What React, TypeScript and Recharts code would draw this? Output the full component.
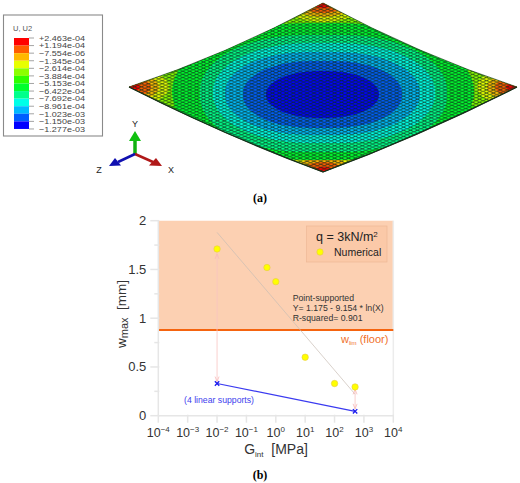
import {
  ScatterChart,
  Scatter,
  XAxis,
  YAxis,
  ReferenceArea,
  ReferenceLine,
} from 'recharts';

const FONT = '"Liberation Sans", Arial, sans-serif';

// panel (b) values
const xTicks = [1e-4, 1e-3, 1e-2, 1e-1, 1, 10, 100, 1000, 10000];
const xExponents = ['-4', '-3', '-2', '-1', '0', '1', '2', '3', '4'];
const yTicks = [0, 0.25, 0.5, 0.75, 1, 1.25, 1.5, 1.75, 2];
const yLabels: Record<number, string> = { 0: '0', 0.5: '0.5', 1: '1', 1.5: '1.5', 2: '2' };

const numericalX = [0.01, 0.5, 1, 10, 100, 500];
const numericalY = [1.71, 1.52, 1.375, 0.6, 0.33, 0.295];
const linearX = [0.01, 500];
const linearY = [0.33, 0.045];
const trendX = [0.01, 500];
const trendY = [1.88, 0.22];
const arrowLeftY = [1.66, 0.35];
const arrowRightY = [0.27, 0.07];
const wLim = 0.88;

const numerical = numericalX.map((x, i) => ({ x, y: numericalY[i] }));
const linear = linearX.map((x, i) => ({ x, y: linearY[i] }));
const trend = trendX.map((x, i) => ({ x, y: trendY[i] }));
const arrowLeft = arrowLeftY.map((y) => ({ x: 0.01, y }));
const arrowRight = arrowRightY.map((y) => ({ x: 500, y }));

// panel (a) contour legend
const contourLabels = [
  '+2.463e-04', '+1.194e-04', '\u22127.554e-06', '\u22121.345e-04', '\u22122.614e-04',
  '\u22123.884e-04', '\u22125.153e-04', '\u22126.422e-04', '\u22127.692e-04', '\u22128.961e-04',
  '\u22121.023e-03', '\u22121.150e-03', '\u22121.277e-03',
];
const contourColors = [
  '#ff0000', '#ff5d00', '#ffb900', '#e8ff00', '#8bff00', '#2eff00',
  '#00ff2e', '#00ff8b', '#00ffe8', '#00b9ff', '#005dff', '#0000ff',
];

const plate = 'M323,3 Q420,55 517,87 Q420,136 323,172 Q226,136 129,87 Q226,55 323,3 Z';
const plateBottom = 'M517,87 Q420,136 323,172 Q226,136 129,87';
const plateCorners = [[323, 3], [517, 87], [323, 172], [129, 87]];
// distance from the plate's corner to each band edge, outermost first
const cornerBands = [
  { rx: 62, ry: 27, color: '#8bff00' },
  { rx: 40, ry: 19, color: '#e8ff00' },
  { rx: 30, ry: 14, color: '#ffb900' },
  { rx: 22, ry: 10, color: '#ff5d00' },
  { rx: 11, ry: 5, color: '#ff0000' },
];
const greenBand = { x0: 172, x1: 474, y0: 23, y1: 160, rx: 135, ry: 68, color: '#00ff2e' };
const centreBands = [
  { x0: 200, x1: 447, y0: 35, y1: 152, rx: 105, ry: 55, color: '#00ff8b' },
  { x0: 213, x1: 435, y0: 43, y1: 143, rx: 95, ry: 48, color: '#00ffe8' },
  { x0: 225, x1: 420, y0: 52, y1: 135, rx: 82, ry: 40, color: '#00b9ff' },
  { x0: 243, x1: 402, y0: 61, y1: 128, rx: 68, ry: 32, color: '#005dff' },
  { x0: 266, x1: 379, y0: 71, y1: 118, rx: 52, ry: 23, color: '#0000ff' },
];

function XTick({ x, y, payload }: any) {
  const exp = xExponents[xTicks.indexOf(payload.value)];
  return (
    <g>
      <line x1={x} x2={x} y1={y - 9} y2={y - 1} stroke="#e6e6e6" strokeWidth={1.5} />
      <text x={x} y={y + 13.3} textAnchor="middle" fontFamily={FONT} fontSize={12.5} fill="#333">
        10
        <tspan dy={-5} fontSize={8}>{exp === undefined ? '' : exp.replace('-', '\u2212')}</tspan>
      </text>
    </g>
  );
}

function YTick({ x, y, payload }: any) {
  const label = yLabels[payload.value];
  return (
    <g>
      <line x1={x + 8 - (label ? 8 : 4)} x2={x + 9} y1={y} y2={y} stroke="#e6e6e6" strokeWidth={1.5} />
      <text x={x - 4} y={y + 4.5} textAnchor="end" fontFamily={FONT} fontSize={13} fill="#333">
        {label}
      </text>
    </g>
  );
}

const noDot = () => <g />;
const yellowDot = ({ cx, cy }: any) => (
  <circle cx={cx} cy={cy} r={3.2} fill="#ffff00" stroke="#e6c84a" strokeWidth={0.6} />
);
const blueCross = ({ cx, cy }: any) => (
  <path
    d={`M${cx - 2.2},${cy - 2.2}L${cx + 2.2},${cy + 2.2}M${cx - 2.2},${cy + 2.2}L${cx + 2.2},${cy - 2.2}`}
    stroke="#1a1aee"
    strokeWidth={1.3}
  />
);
const arrowHead = (p: any) => {
  const dir = p.index === 0 ? 1 : -1;
  return (
    <path
      d={`M${p.cx - 2},${p.cy + dir * 5}L${p.cx},${p.cy}L${p.cx + 2},${p.cy + dir * 5}`}
      fill="none"
      stroke="#f7b9b9"
      strokeWidth={0.8}
    />
  );
};

function bandRect(b: typeof greenBand) {
  return (
    <rect
      key={b.color}
      x={b.x0}
      y={b.y0}
      width={b.x1 - b.x0}
      height={b.y1 - b.y0}
      rx={b.rx}
      ry={b.ry}
      fill={b.color}
    />
  );
}

function PlatePanel() {
  return (
    <svg width={520} height={205} style={{ position: 'absolute', left: 0, top: 0 }}>
      <defs>
        <clipPath id="plate">
          <path d={plate} />
        </clipPath>
        <pattern id="mesh" width={6.9} height={3.1} patternUnits="userSpaceOnUse">
          <path
            d="M0,1.55L3.45,0L6.9,1.55L3.45,3.1Z"
            fill="none"
            stroke="#0c2a18"
            strokeWidth={0.85}
            strokeOpacity={0.8}
          />
        </pattern>
      </defs>

      <rect x={3.5} y={15} width={99} height={121} fill="#fff" stroke="#8a8a8a" strokeWidth={1.1} />
      <text x={13} y={31} fontFamily={FONT} fontSize={7.5} fill="#555">U, U2</text>
      {contourColors.map((c, i) => (
        <rect key={c} x={14} y={38 + i * 7.58} width={15} height={7.58} fill={c} />
      ))}
      {contourLabels.map((label, i) => (
        <g key={label}>
          <line x1={29} x2={34} y1={38 + i * 7.58} y2={38 + i * 7.58} stroke="#666" strokeWidth={0.6} />
          <text
            x={39}
            y={40.8 + i * 7.58}
            fontFamily={FONT}
            fontSize={7.8}
            fill="#444"
            textLength={46}
            lengthAdjust="spacingAndGlyphs"
          >
            {label}
          </text>
        </g>
      ))}

      <g clipPath="url(#plate)">
        <rect x={120} y={0} width={400} height={180} fill="#2eff00" />
        {plateCorners.map(([cx, cy]) =>
          cornerBands.map((b) => (
            <ellipse key={`${cx}-${cy}-${b.color}`} cx={cx} cy={cy} rx={b.rx} ry={b.ry} fill={b.color} />
          )),
        )}
        {bandRect(greenBand)}
        {centreBands.map(bandRect)}
        <rect x={120} y={0} width={400} height={180} fill="url(#mesh)" />
      </g>
      <path d={plate} fill="none" stroke="#1c3a20" strokeWidth={0.7} />
      <path d={plateBottom} fill="none" stroke="#16301c" strokeWidth={1.2} />

      <line x1={135} y1={154} x2={135} y2={140} stroke="#10b010" strokeWidth={3.5} />
      <polygon points="129,141 135,131 141,141" fill="#10c010" />
      <line x1={135} y1={154} x2={153} y2={162} stroke="#b01818" strokeWidth={2.5} />
      <polygon points="149,165.5 162,166 156,158" fill="#b01818" />
      <line x1={135} y1={154} x2={118} y2={162} stroke="#1010b0" strokeWidth={2.5} />
      <polygon points="121,165.5 109,166 115,158" fill="#1010b0" />
      <text x={135} y={127} textAnchor="middle" fontFamily={FONT} fontSize={9} fill="#222">Y</text>
      <text x={99} y={173} textAnchor="middle" fontFamily={FONT} fontSize={9} fill="#222">Z</text>
      <text x={171} y={173} textAnchor="middle" fontFamily={FONT} fontSize={9} fill="#222">X</text>

      <text x={260} y={202} textAnchor="middle" fontFamily='"Liberation Serif", serif' fontWeight="bold" fontSize={12}>
        (a)
      </text>
    </svg>
  );
}

function ChartPanel() {
  return (
    <ScatterChart
      width={320}
      height={278}
      margin={{ top: 15.7, right: 16.7, bottom: 0, left: 0 }}
      style={{ position: 'absolute', left: 90, top: 205 }}
    >
      <XAxis
        dataKey="x"
        type="number"
        scale="log"
        domain={[1e-4, 1e4]}
        ticks={xTicks}
        allowDataOverflow
        height={67.3}
        tick={<XTick />}
        tickLine={false}
        interval={0}
        axisLine={{ stroke: '#e6e6e6', strokeWidth: 1.5 }}
      />
      <YAxis
        dataKey="y"
        type="number"
        domain={[0, 2]}
        ticks={yTicks}
        width={68.3}
        tick={<YTick />}
        tickLine={false}
        interval={0}
        axisLine={{ stroke: '#e6e6e6', strokeWidth: 1.5 }}
      />
      <ReferenceArea x1={1e-4} x2={1e4} y1={wLim} y2={2} fill="#fcd0b2" fillOpacity={1} stroke="none" />
      <ReferenceLine x={1e4} stroke="#ececec" strokeWidth={1.5} />
      <Scatter data={trend} line={{ stroke: '#c9bdb4', strokeWidth: 0.7 }} shape={noDot} isAnimationActive={false} />
      <Scatter data={arrowLeft} line={{ stroke: '#f7c4c0', strokeWidth: 0.8 }} shape={arrowHead} isAnimationActive={false} />
      <Scatter data={arrowRight} line={{ stroke: '#f7c4c0', strokeWidth: 0.8 }} shape={arrowHead} isAnimationActive={false} />
      <ReferenceLine y={wLim} stroke="#f5640f" strokeWidth={2} />
      <Scatter data={linear} line={{ stroke: '#3a3af0', strokeWidth: 1.2 }} shape={blueCross} isAnimationActive={false} />
      <Scatter data={numerical} shape={yellowDot} isAnimationActive={false} />
    </ScatterChart>
  );
}

// annotations sit above the chart's reference area, in page pixels
function ChartNotes() {
  return (
    <svg width={520} height={483} style={{ position: 'absolute', left: 0, top: 0, pointerEvents: 'none' }}>
      <rect x={306.5} y={226} width={80.5} height={36} fill="#fbc9a8" stroke="#eeb896" strokeWidth={0.7} />
      <text x={316} y={241} fontFamily={FONT} fontSize={12.5} fill="#222">
        q = 3kN/m<tspan dy={-4} fontSize={8}>2</tspan>
      </text>
      <circle cx={320} cy={252} r={3.2} fill="#ffff00" stroke="#e6c84a" strokeWidth={0.6} />
      <text x={334} y={256} fontFamily={FONT} fontSize={10.5} fill="#222">Numerical</text>

      <text fontFamily={FONT} fontSize={8.7} fill="#333">
        <tspan x={292.7} y={301}>Point-supported</tspan>
        <tspan x={292.7} y={311}>Y= 1.175 - 9.154 * ln(X)</tspan>
        <tspan x={292.7} y={320.5}>R-squared= 0.901</tspan>
      </text>
      <text x={341} y={343} fontFamily={FONT} fontSize={11} fill="#f0702a">
        w<tspan dy={2} fontSize={6}>lim</tspan>
        <tspan dy={-2}>{'\u00a0(floor)'}</tspan>
      </text>
      <text x={184} y={403} fontFamily={FONT} fontSize={8.7} fill="#4040ee">(4 linear supports)</text>

      <text x={276} y={454} textAnchor="middle" fontFamily={FONT} fontSize={14} fill="#333">
        G<tspan dy={3} fontSize={8}>int</tspan>
        <tspan dy={-3}>{'\u00a0\u00a0[MPa]'}</tspan>
      </text>
      <text
        transform="translate(126,314) rotate(-90)"
        textAnchor="middle"
        fontFamily={FONT}
        fontSize={13.5}
        fill="#333"
      >
        w<tspan dy={2} fontSize={11}>max</tspan>
        <tspan dy={-2}>{'\u00a0\u00a0[mm]'}</tspan>
      </text>
    </svg>
  );
}

export default function App() {
  return (
    <div style={{ position: 'absolute', left: 0, top: 0, width: 520, height: 483, background: '#fff', overflow: 'hidden' }}>
      <PlatePanel />
      <ChartPanel />
      <ChartNotes />
      <div
        style={{
          position: 'absolute',
          left: 0,
          width: 520,
          top: 468,
          textAlign: 'center',
          fontFamily: '"Liberation Serif", serif',
          fontWeight: 'bold',
          fontSize: 12,
        }}
      >
        (b)
      </div>
    </div>
  );
}
